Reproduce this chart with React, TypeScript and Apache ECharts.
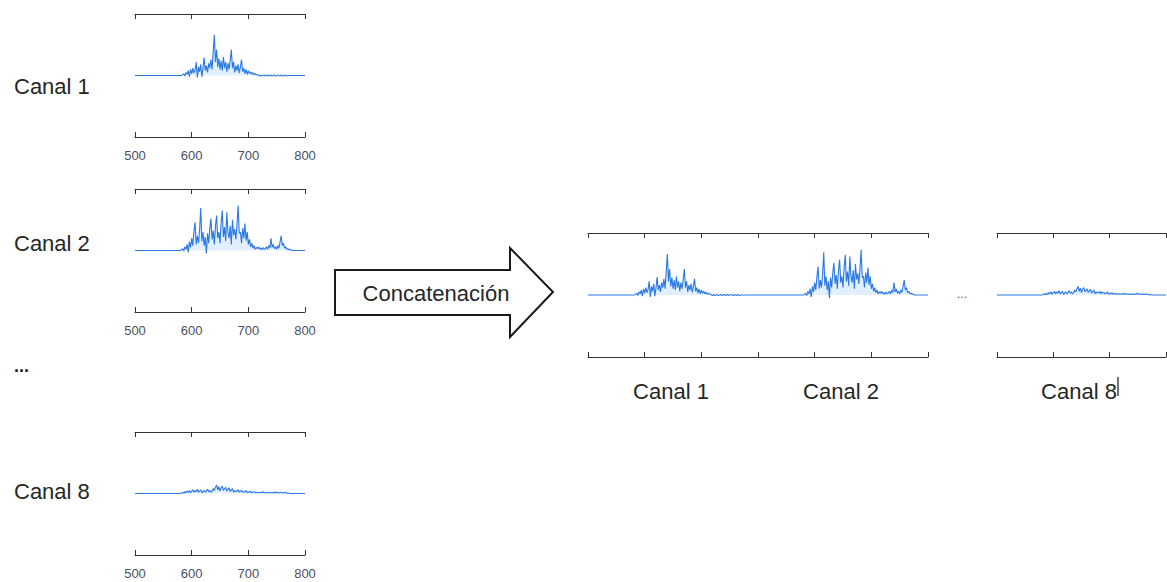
import React, { useEffect, useRef } from "react";
import * as echarts from "echarts";

// Wavelength-like axis for each channel
const X_MIN = 500;
const X_MAX = 800;
const SIG_START = 580;
const SIG_STEP = 2;
const TICK_LABELS = ["500", "600", "700", "800"];
const CHANNEL_NAMES = ["Canal 1", "Canal 2", "Canal 8"];

// Signal samples from x = 580, step 2
const canal1 = [
  0, 0, 0.01, 0.03, -0.01, 0.05, 0.02, 0.08, -0.02, 0.1,
  0.03, 0.12, 0.04, 0.09, 0.22, -0.03, 0.14, 0.06, 0.18, -0.02,
  0.12, 0.29, 0.08, 0.16, 0.05, 0.2, 0.12, 0.26, 0.1, 0.38,
  0.66, 0.22, 0.42, 0.14, 0.28, 0.1, 0.24, 0.08, 0.3, 0.12,
  0.22, 0.06, 0.2, 0.1, 0.25, 0.42, 0.12, 0.22, 0.05, 0.16,
  0.08, 0.18, 0.04, 0.14, 0.26, 0.06, 0.12, 0.03, 0.1, 0.02,
  0.08, 0.03, 0.06, 0.02, 0.05, 0.01, 0.03, 0.01, 0.02, 0,
  -0.01, 0.01, -0.01, 0, 0.01, -0.01, 0, 0.01, -0.01, 0,
  0.01, -0.01, 0, 0.01, -0.01, 0, 0.01, 0, -0.01, 0.01,
  0, -0.01, 0.01, 0, -0.01, 0, 0, 0, 0, 0,
];

const canal2 = [
  0, 0.01, 0.03, -0.01, 0.06, 0.02, 0.1, -0.03, 0.14, 0.05,
  0.2, 0.08, 0.3, 0.46, 0.1, 0.24, 0.12, 0.34, 0.69, 0.15,
  0.3, 0.08, 0.22, -0.05, 0.28, 0.12, 0.36, 0.52, 0.18, 0.32,
  0.1, 0.4, 0.57, 0.2, 0.3, 0.12, 0.45, 0.65, 0.22, 0.38,
  0.15, 0.62, 0.3, 0.2, 0.4, 0.1, 0.5, 0.25, 0.35, 0.18,
  0.42, 0.73, 0.28, 0.3, 0.12, 0.36, 0.2, 0.44, 0.16, 0.3,
  0.1, 0.18, 0.06, 0.12, 0.04, 0.08, 0.02, 0.05, 0.03, 0.06,
  0.02, 0.04, 0.01, 0.05, 0.02, 0.03, 0.06, 0.02, 0.08, 0.04,
  0.2, 0.05, 0.1, 0.03, 0.06, 0.02, 0.08, 0.04, 0.14, 0.24,
  0.08, 0.12, 0.04, 0.06, 0.02, 0.03, 0.01, 0.02, 0, 0,
];

const canal8 = [
  0, 0.01, 0.02, 0, 0.03, 0.01, 0.04, 0.02, 0.05, 0.01,
  0.04, 0.06, 0.02, 0.05, 0.03, 0.07, 0.02, 0.04, 0.06, 0.01,
  0.03, 0.05, 0.02, 0.04, 0.07, 0.03, 0.05, 0.02, 0.04, 0.08,
  0.05, 0.1, 0.14, 0.06, 0.11, 0.04, 0.09, 0.12, 0.05, 0.08,
  0.1, 0.04, 0.07, 0.09, 0.03, 0.06, 0.08, 0.02, 0.05, 0.03,
  0.04, 0.06, 0.02, 0.05, 0.03, 0.04, 0.02, 0.03, 0.05, 0.01,
  0.03, 0.02, 0.04, 0.01, 0.02, 0.03, 0.01, 0.02, 0.01, 0.02,
  0.01, 0.02, 0.01, 0.03, 0.01, 0.02, 0.01, 0.01, 0.02, 0.01,
  0.01, 0.02, 0.01, 0.01, 0.03, 0.01, 0.02, 0.01, 0.01, 0.02,
  0.01, 0.01, 0.02, 0.01, 0.01, 0, 0.01, 0, 0, 0,
];

const FONT = '"Liberation Sans", Arial, Helvetica, sans-serif';

function toPoints(vals: number[], offset: number): number[][] {
  const pts: number[][] = [[X_MIN + offset, 0]];
  vals.forEach((v, i) => pts.push([SIG_START + SIG_STEP * i + offset, v]));
  pts.push([X_MAX + offset, 0]);
  return pts;
}

export default function App() {
  const ref = useRef<HTMLDivElement>(null);

  useEffect(() => {
    if (!ref.current) return;
    const chart = echarts.init(ref.current, undefined, { renderer: "svg" });

    const grids = [
      { left: 135, top: 14, width: 170, height: 123 },
      { left: 135, top: 189, width: 170, height: 123 },
      { left: 135, top: 432, width: 170, height: 123 },
      { left: 588, top: 233, width: 340, height: 124 },
      { left: 997, top: 233, width: 169, height: 124 },
    ];
    const ranges = [
      [X_MIN, X_MAX],
      [X_MIN, X_MAX],
      [X_MIN, X_MAX],
      [0, 2 * (X_MAX - X_MIN)],
      [0, X_MAX - X_MIN],
    ];
    const showLbl = [true, true, true, false, false];

    const xAxis: any[] = [];
    const yAxis: any[] = [];
    grids.forEach((_, gi) => {
      ["bottom", "top"].forEach((pos) => {
        xAxis.push({
          type: "value",
          gridIndex: gi,
          position: pos,
          min: ranges[gi][0],
          max: ranges[gi][1],
          interval: 100,
          axisLine: { show: true, onZero: false, lineStyle: { color: "#333", width: 1 } },
          axisTick: { show: true, inside: true, length: 5, lineStyle: { color: "#333", width: 1 } },
          axisLabel: {
            show: pos === "bottom" && showLbl[gi],
            margin: 12,
            fontSize: 13,
            color: "#4a4f66",
            fontFamily: FONT,
            formatter: (v: number) => {
              const s = String(v);
              return TICK_LABELS.includes(s) ? s : "";
            },
          },
          splitLine: { show: false },
        });
      });
      yAxis.push({
        type: "value",
        gridIndex: gi,
        min: -1,
        max: 1,
        show: false,
        splitLine: { show: false },
      });
    });

    const shift = X_MIN;
    const concat12 = [
      ...toPoints(canal1, -shift),
      ...toPoints(canal2, X_MAX - X_MIN - shift),
    ];
    const seriesData = [
      toPoints(canal1, 0),
      toPoints(canal2, 0),
      toPoints(canal8, 0),
      concat12,
      toPoints(canal8, -shift),
    ];

    const series = seriesData.map((d, gi) => ({
      type: "line",
      xAxisIndex: gi * 2,
      yAxisIndex: gi,
      data: d,
      symbol: "none",
      showSymbol: false,
      lineStyle: { color: "#2a78e4", width: 1.1 },
      areaStyle: { color: "#8cc0ff", opacity: 0.25, origin: 0 },
      silent: true,
    }));

    const txt = (text: string, x: number, y: number, align: string, size = 22, fill = "#262626", weight = "normal") => ({
      type: "text",
      x,
      y,
      silent: true,
      style: {
        text,
        font: `${weight} ${size}px ${FONT}`,
        fill,
        align,
        verticalAlign: "middle",
        textAlign: align,
        textVerticalAlign: "middle",
      },
    });

    const graphic: any[] = [
      txt(CHANNEL_NAMES[0], 14, 86, "left"),
      txt(CHANNEL_NAMES[1], 14, 243, "left"),
      txt("...", 14, 366, "left", 18, "#222", "bold"),
      txt(CHANNEL_NAMES[2], 14, 491, "left"),
      {
        type: "polygon",
        silent: true,
        shape: {
          points: [
            [335, 270],
            [510, 270],
            [510, 248],
            [553, 292],
            [510, 337],
            [510, 315],
            [335, 315],
          ],
        },
        style: { fill: "#ffffff", stroke: "#1a1a1a", lineWidth: 2 },
      },
      txt("Concatenación", 436, 293, "center"),
      txt(CHANNEL_NAMES[0], 671, 391, "center"),
      txt(CHANNEL_NAMES[1], 841, 391, "center"),
      txt("...", 962, 294, "center", 12, "#555"),
      txt(CHANNEL_NAMES[2], 1079, 391, "center"),
      {
        type: "line",
        silent: true,
        shape: { x1: 1118, y1: 377, x2: 1118, y2: 396 },
        style: { stroke: "#111", lineWidth: 1.2 },
      },
    ];

    chart.setOption({
      animation: false,
      backgroundColor: "#ffffff",
      grid: grids.map((g) => ({ ...g, containLabel: false })),
      xAxis,
      yAxis,
      series,
      graphic,
    });

    return () => chart.dispose();
  }, []);

  return (
    <div
      ref={ref}
      style={{ position: "fixed", left: 0, top: 0, width: 1167, height: 582, background: "#fff" }}
    />
  );
}
